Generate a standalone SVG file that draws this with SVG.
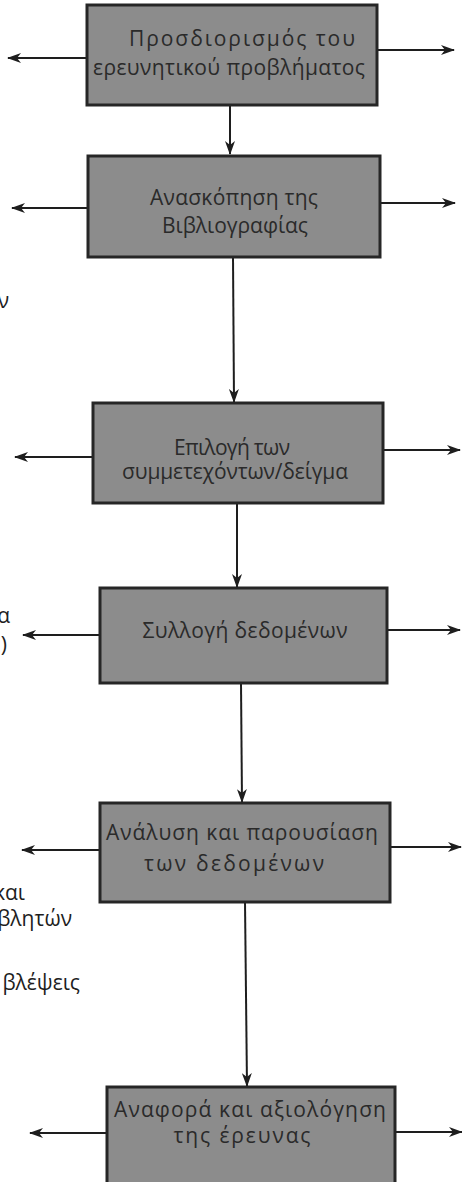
<svg xmlns="http://www.w3.org/2000/svg" width="462" height="1182" viewBox="0 0 462 1182">
<style>
.box{fill:#8c8c8c;stroke:#262626;stroke-width:3}
.lbl{font-family:"Open Sans","Noto Sans","DejaVu Sans",sans-serif;font-size:21px;fill:#2a2a2a;text-anchor:middle}
.side{font-family:"Open Sans","Noto Sans","DejaVu Sans",sans-serif;font-size:21px;fill:#1e1e1e;text-anchor:end}
.ln{stroke:#1e1e1e;stroke-width:2;fill:none}
</style>
<defs>
<marker id="ah" viewBox="0 0 14 10" markerWidth="14" markerHeight="10" refX="13" refY="5" orient="auto" markerUnits="userSpaceOnUse">
<path d="M0,0 L14,5 L0,10 L4,5 z" fill="#1e1e1e"/>
</marker>
</defs>
<rect width="462" height="1182" fill="#fff"/>
<g id="connectors">
<line class="ln" x1="230" y1="105" x2="230" y2="154" marker-end="url(#ah)"/>
<line class="ln" x1="233" y1="257" x2="234" y2="402" marker-end="url(#ah)"/>
<line class="ln" x1="237" y1="503" x2="237" y2="587" marker-end="url(#ah)"/>
<line class="ln" x1="241" y1="683" x2="242" y2="802" marker-end="url(#ah)"/>
<line class="ln" x1="245" y1="902" x2="247" y2="1086" marker-end="url(#ah)"/>
<line class="ln" x1="87" y1="58" x2="8" y2="58" marker-end="url(#ah)"/>
<line class="ln" x1="377" y1="50" x2="454" y2="50" marker-end="url(#ah)"/>
<line class="ln" x1="88" y1="208" x2="12" y2="208" marker-end="url(#ah)"/>
<line class="ln" x1="380" y1="203" x2="455" y2="203" marker-end="url(#ah)"/>
<line class="ln" x1="93" y1="457" x2="15" y2="457" marker-end="url(#ah)"/>
<line class="ln" x1="383" y1="450" x2="460" y2="450" marker-end="url(#ah)"/>
<line class="ln" x1="100" y1="635" x2="23" y2="635" marker-end="url(#ah)"/>
<line class="ln" x1="387" y1="630" x2="460" y2="630" marker-end="url(#ah)"/>
<line class="ln" x1="100" y1="850" x2="22" y2="850" marker-end="url(#ah)"/>
<line class="ln" x1="390" y1="847" x2="461" y2="847" marker-end="url(#ah)"/>
<line class="ln" x1="107" y1="1133" x2="30" y2="1133" marker-end="url(#ah)"/>
<line class="ln" x1="395" y1="1132" x2="462" y2="1132" marker-end="url(#ah)"/>
</g>
<g id="n1">
<rect class="box" x="87" y="5" width="290" height="100"/>
<text class="lbl" x="242" y="46" textLength="226" lengthAdjust="spacing">Προσδιορισμός του</text>
<text class="lbl" x="229" y="75" textLength="272" lengthAdjust="spacing">ερευνητικού προβλήματος</text>
</g>
<g id="n2">
<rect class="box" x="88" y="156" width="292" height="101"/>
<text class="lbl" x="234" y="205" textLength="168" lengthAdjust="spacing">Ανασκόπηση της</text>
<text class="lbl" x="235" y="233" textLength="146" lengthAdjust="spacing">Βιβλιογραφίας</text>
</g>
<g id="n3">
<rect class="box" x="93" y="403" width="290" height="100"/>
<text class="lbl" x="232" y="455" textLength="116" lengthAdjust="spacing">Επιλογή των</text>
<text class="lbl" x="235" y="479" textLength="226" lengthAdjust="spacing">συμμετεχόντων/δείγμα</text>
</g>
<g id="n4">
<rect class="box" x="100" y="588" width="287" height="95"/>
<text class="lbl" x="245" y="638" textLength="205" lengthAdjust="spacing">Συλλογή δεδομένων</text>
</g>
<g id="n5">
<rect class="box" x="100" y="803" width="290" height="99"/>
<text class="lbl" x="242" y="840" textLength="272" lengthAdjust="spacing">Ανάλυση και παρουσίαση</text>
<text class="lbl" x="234" y="871" textLength="180" lengthAdjust="spacing">των δεδομένων</text>
</g>
<g id="n6">
<rect class="box" x="107" y="1087" width="288" height="100"/>
<text class="lbl" x="250" y="1117" textLength="272" lengthAdjust="spacing">Αναφορά και αξιολόγηση</text>
<text class="lbl" x="242" y="1143" textLength="137" lengthAdjust="spacing">της έρευνας</text>
</g>
<g id="fragments">
<text class="side" x="9" y="308">ν</text>
<text class="side" x="10" y="623">α</text>
<text class="side" x="7" y="652">)</text>
<text class="side" x="25" y="900">και</text>
<text class="side" x="72" y="926">βλητών</text>
<text class="side" x="80" y="990">βλέψεις</text>
</g>
</svg>
